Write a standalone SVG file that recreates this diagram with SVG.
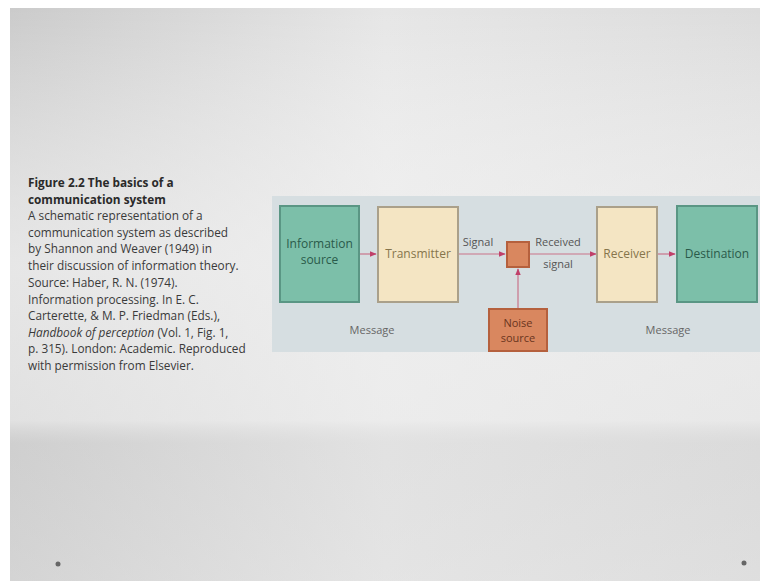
<svg xmlns="http://www.w3.org/2000/svg" width="767" height="581" viewBox="0 0 767 581">
<defs>
<style>
.cap{font-family:"Open Sans","Liberation Sans",sans-serif;font-size:11.8px;fill:#3a3a3a}
.capb{font-family:"Open Sans","Liberation Sans",sans-serif;font-size:11.8px;font-weight:bold;fill:#2a2a2a}
.lbl{font-family:"Open Sans","Liberation Sans",sans-serif;font-size:12px;text-anchor:middle}
.sm{font-size:11px}
.green{fill:#7cbfa9;stroke:#5a9684;stroke-width:2}
.cream{fill:#f4e5c3;stroke:#aaa08a;stroke-width:2}
.orange{fill:#d9875f;stroke:#b5603d;stroke-width:2}
.conn{stroke:#c9738a;stroke-width:1.2;fill:none}
</style>
<marker id="ah" viewBox="0 0 10 10" refX="9" refY="5" markerWidth="6" markerHeight="6" orient="auto">
<path d="M0,1 L10,5 L0,9 z" fill="#c0406a"/>
</marker>
<linearGradient id="bg" x1="0" y1="0" x2="1" y2="0">
<stop offset="0" stop-color="#cbcbcb"/>
<stop offset="0.5" stop-color="#e6e6e6"/>
<stop offset="1" stop-color="#dcdcdc"/>
</linearGradient>
<linearGradient id="bgv" x1="0" y1="0" x2="0" y2="1">
<stop offset="0" stop-color="#ffffff" stop-opacity="0"/>
<stop offset="0.45" stop-color="#f2f2f2" stop-opacity="0.7"/>
<stop offset="0.72" stop-color="#f0f0f0" stop-opacity="0.6"/>
<stop offset="0.76" stop-color="#d8d8d8" stop-opacity="0.3"/>
<stop offset="1" stop-color="#e2e2e2" stop-opacity="0.4"/>
</linearGradient>
</defs>
<rect x="0" y="0" width="767" height="581" fill="#ffffff"/>
<rect x="10" y="8" width="750" height="573" fill="url(#bg)"/>
<rect x="10" y="8" width="750" height="573" fill="url(#bgv)"/>

<g id="caption">
<text class="capb" x="28" y="187">Figure 2.2 The basics of a</text>
<text class="capb" x="28" y="203.5">communication system</text>
<text class="cap" x="28" y="220">A schematic representation of a</text>
<text class="cap" x="28" y="236.5">communication system as described</text>
<text class="cap" x="28" y="253">by Shannon and Weaver (1949) in</text>
<text class="cap" x="28" y="269.5">their discussion of information theory.</text>
<text class="cap" x="28" y="287">Source: Haber, R. N. (1974).</text>
<text class="cap" x="28" y="303.5">Information processing. In E. C.</text>
<text class="cap" x="28" y="320">Carterette, &amp; M. P. Friedman (Eds.),</text>
<text class="cap" x="28" y="336.5"><tspan font-style="italic">Handbook of perception</tspan> (Vol. 1, Fig. 1,</text>
<text class="cap" x="28" y="353">p. 315). London: Academic. Reproduced</text>
<text class="cap" x="28" y="369.5">with permission from Elsevier.</text>
</g>

<rect x="272" y="196" width="488" height="156" fill="#d6dee1"/>

<g id="connectors">
<line class="conn" x1="360" y1="254" x2="376" y2="254" marker-end="url(#ah)"/>
<line class="conn" x1="459" y1="254" x2="505" y2="254" marker-end="url(#ah)"/>
<line class="conn" x1="530" y1="254" x2="596" y2="254" marker-end="url(#ah)"/>
<line class="conn" x1="658" y1="254" x2="675" y2="254" marker-end="url(#ah)"/>
<line class="conn" x1="518" y1="308" x2="518" y2="269" marker-end="url(#ah)"/>
<text class="lbl sm" x="478" y="246" fill="#555">Signal</text>
<text class="lbl sm" x="558" y="246" fill="#555">Received</text>
<text class="lbl sm" x="558" y="268" fill="#555">signal</text>
</g>

<g id="info-source">
<rect class="green" x="280" y="206" width="79" height="96"/>
<text class="lbl" x="319.5" y="248" fill="#2a5a4a">Information</text>
<text class="lbl" x="319.5" y="264" fill="#2a5a4a">source</text>
</g>
<g id="transmitter">
<rect class="cream" x="378" y="207" width="80" height="95"/>
<text class="lbl" x="418" y="258" fill="#86754c">Transmitter</text>
</g>
<g id="mixer">
<rect class="orange" x="507" y="242" width="22" height="25"/>
</g>
<g id="noise-source">
<rect class="orange" x="489" y="309" width="58" height="42"/>
<text class="lbl sm" x="518" y="327" fill="#6a3520">Noise</text>
<text class="lbl sm" x="518" y="342" fill="#6a3520">source</text>
</g>
<g id="receiver">
<rect class="cream" x="597" y="207" width="60" height="95"/>
<text class="lbl" x="627" y="258" fill="#86754c">Receiver</text>
</g>
<g id="destination">
<rect class="green" x="677" y="206" width="80" height="96"/>
<text class="lbl" x="717" y="258" fill="#2a5a4a">Destination</text>
</g>
<g id="messages">
<text class="lbl sm" x="372" y="334" fill="#666">Message</text>
<text class="lbl sm" x="668" y="334" fill="#666">Message</text>
</g>
<circle cx="58" cy="564" r="2.5" fill="#666"/>
<circle cx="744" cy="563" r="2.5" fill="#666"/>
</svg>
